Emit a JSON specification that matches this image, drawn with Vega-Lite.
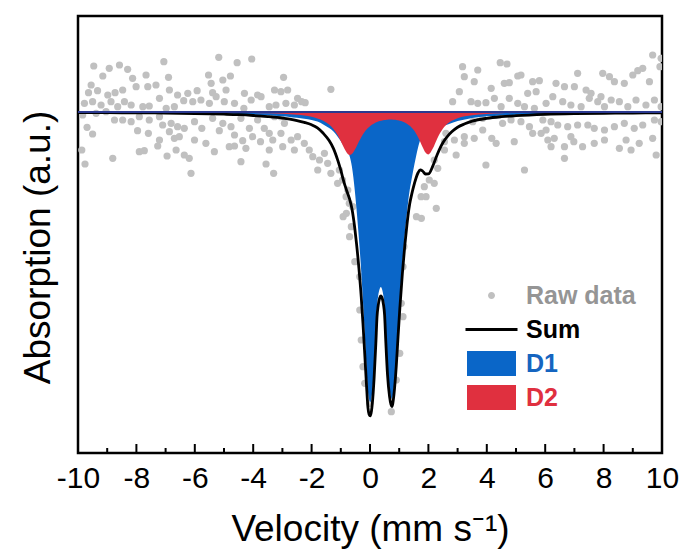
{
  "$schema": "https://vega.github.io/schema/vega-lite/v6.json",
  "width": 584,
  "height": 437,
  "autosize": {"type": "none"},
  "padding": {"left": 78, "top": 16, "right": 27, "bottom": 100},
  "background": "white",
  "config": {
    "view": {"stroke": "black", "strokeWidth": 2.5},
    "font": "Liberation Sans"
  },
  "datasets": {
    "majorTicks": [{"t": -8}, {"t": -6}, {"t": -4}, {"t": -2}, {"t": 0}, {"t": 2}, {"t": 4}, {"t": 6}, {"t": 8}],
    "minorTicks": [{"t": -9}, {"t": -7}, {"t": -5}, {"t": -3}, {"t": -1}, {"t": 1}, {"t": 3}, {"t": 5}, {"t": 7}, {"t": 9}],
    "curves": [
      {"v": -10, "D1": 99.96, "D2": 99.99, "Sum": 99.95},
      {"v": -9, "D1": 99.95, "D2": 99.98, "Sum": 99.93},
      {"v": -8, "D1": 99.94, "D2": 99.98, "Sum": 99.92},
      {"v": -7, "D1": 99.92, "D2": 99.97, "Sum": 99.89},
      {"v": -6, "D1": 99.89, "D2": 99.96, "Sum": 99.85},
      {"v": -5, "D1": 99.84, "D2": 99.94, "Sum": 99.78},
      {"v": -4.5, "D1": 99.8, "D2": 99.93, "Sum": 99.73},
      {"v": -4, "D1": 99.74, "D2": 99.91, "Sum": 99.65},
      {"v": -3.5, "D1": 99.67, "D2": 99.87, "Sum": 99.54},
      {"v": -3, "D1": 99.57, "D2": 99.82, "Sum": 99.39},
      {"v": -2.75, "D1": 99.5, "D2": 99.78, "Sum": 99.28},
      {"v": -2.5, "D1": 99.42, "D2": 99.72, "Sum": 99.14},
      {"v": -2.25, "D1": 99.32, "D2": 99.64, "Sum": 98.96},
      {"v": -2, "D1": 99.2, "D2": 99.52, "Sum": 98.72},
      {"v": -1.8, "D1": 99.05, "D2": 99.36, "Sum": 98.41},
      {"v": -1.6, "D1": 98.75, "D2": 99.12, "Sum": 97.87},
      {"v": -1.4, "D1": 98.4, "D2": 98.74, "Sum": 97.14},
      {"v": -1.25, "D1": 98.05, "D2": 98.29, "Sum": 96.34},
      {"v": -1.1, "D1": 97.5, "D2": 97.64, "Sum": 95.14},
      {"v": -1.0, "D1": 97.1, "D2": 97.08, "Sum": 94.18},
      {"v": -0.9, "D1": 96.6, "D2": 96.47, "Sum": 93.07},
      {"v": -0.8, "D1": 96.2, "D2": 95.95, "Sum": 92.15},
      {"v": -0.7, "D1": 95.6, "D2": 95.71, "Sum": 91.31},
      {"v": -0.62, "D1": 94.55, "D2": 95.8, "Sum": 90.35},
      {"v": -0.57, "D1": 93.47, "D2": 95.98, "Sum": 89.45},
      {"v": -0.52, "D1": 92.13, "D2": 96.22, "Sum": 88.35},
      {"v": -0.46, "D1": 90.23, "D2": 96.56, "Sum": 86.79},
      {"v": -0.38, "D1": 87.35, "D2": 97.04, "Sum": 84.39},
      {"v": -0.3, "D1": 84.03, "D2": 97.48, "Sum": 81.51},
      {"v": -0.24, "D1": 81.04, "D2": 97.77, "Sum": 78.81},
      {"v": -0.18, "D1": 77.78, "D2": 98.03, "Sum": 75.81},
      {"v": -0.12, "D1": 74.45, "D2": 98.24, "Sum": 72.69},
      {"v": -0.07, "D1": 72.04, "D2": 98.4, "Sum": 70.44},
      {"v": -0.03, "D1": 71.25, "D2": 98.51, "Sum": 69.76},
      {"v": 0.01, "D1": 71.0, "D2": 98.61, "Sum": 69.61},
      {"v": 0.05, "D1": 71.4, "D2": 98.7, "Sum": 70.1},
      {"v": 0.08, "D1": 72.1, "D2": 98.76, "Sum": 70.86},
      {"v": 0.14, "D1": 74.5, "D2": 98.86, "Sum": 73.36},
      {"v": 0.2, "D1": 77.9, "D2": 98.95, "Sum": 76.85},
      {"v": 0.24, "D1": 80.5, "D2": 99.0, "Sum": 79.5},
      {"v": 0.28, "D1": 81.6, "D2": 99.04, "Sum": 80.64},
      {"v": 0.33, "D1": 82.3, "D2": 99.09, "Sum": 81.39},
      {"v": 0.37, "D1": 82.5, "D2": 99.12, "Sum": 81.62},
      {"v": 0.42, "D1": 82.2, "D2": 99.16, "Sum": 81.36},
      {"v": 0.46, "D1": 81.6, "D2": 99.18, "Sum": 80.78},
      {"v": 0.5, "D1": 80.5, "D2": 99.2, "Sum": 79.7},
      {"v": 0.54, "D1": 77.9, "D2": 99.21, "Sum": 77.11},
      {"v": 0.6, "D1": 74.5, "D2": 99.23, "Sum": 73.73},
      {"v": 0.67, "D1": 72.3, "D2": 99.24, "Sum": 71.54},
      {"v": 0.72, "D1": 71.5, "D2": 99.24, "Sum": 70.74},
      {"v": 0.75, "D1": 71.3, "D2": 99.24, "Sum": 70.54},
      {"v": 0.78, "D1": 71.6, "D2": 99.23, "Sum": 70.83},
      {"v": 0.82, "D1": 72.5, "D2": 99.23, "Sum": 71.73},
      {"v": 0.9, "D1": 75.4, "D2": 99.2, "Sum": 74.6},
      {"v": 0.96, "D1": 78.33, "D2": 99.17, "Sum": 77.5},
      {"v": 1.02, "D1": 81.17, "D2": 99.13, "Sum": 80.3},
      {"v": 1.11, "D1": 84.85, "D2": 99.05, "Sum": 83.9},
      {"v": 1.19, "D1": 87.65, "D2": 98.95, "Sum": 86.6},
      {"v": 1.25, "D1": 89.45, "D2": 98.85, "Sum": 88.3},
      {"v": 1.3, "D1": 90.84, "D2": 98.76, "Sum": 89.6},
      {"v": 1.36, "D1": 92.2, "D2": 98.62, "Sum": 90.82},
      {"v": 1.42, "D1": 93.2, "D2": 98.46, "Sum": 91.66},
      {"v": 1.47, "D1": 94.0, "D2": 98.29, "Sum": 92.29},
      {"v": 1.58, "D1": 95.6, "D2": 97.83, "Sum": 93.43},
      {"v": 1.65, "D1": 96.5, "D2": 97.45, "Sum": 93.95},
      {"v": 1.72, "D1": 97.2, "D2": 97.02, "Sum": 94.22},
      {"v": 1.8, "D1": 97.6, "D2": 96.5, "Sum": 94.1},
      {"v": 1.9, "D1": 97.85, "D2": 95.95, "Sum": 93.8},
      {"v": 2.0, "D1": 98.05, "D2": 95.76, "Sum": 93.81},
      {"v": 2.15, "D1": 98.25, "D2": 96.34, "Sum": 94.59},
      {"v": 2.3, "D1": 98.4, "D2": 97.33, "Sum": 95.73},
      {"v": 2.5, "D1": 98.6, "D2": 98.35, "Sum": 96.95},
      {"v": 2.66, "D1": 98.75, "D2": 98.84, "Sum": 97.59},
      {"v": 2.8, "D1": 98.9, "D2": 99.12, "Sum": 98.02},
      {"v": 3.0, "D1": 99.1, "D2": 99.38, "Sum": 98.48},
      {"v": 3.25, "D1": 99.25, "D2": 99.57, "Sum": 98.82},
      {"v": 3.5, "D1": 99.4, "D2": 99.68, "Sum": 99.08},
      {"v": 4, "D1": 99.57, "D2": 99.8, "Sum": 99.37},
      {"v": 4.5, "D1": 99.66, "D2": 99.87, "Sum": 99.53},
      {"v": 5, "D1": 99.73, "D2": 99.9, "Sum": 99.63},
      {"v": 6, "D1": 99.82, "D2": 99.94, "Sum": 99.76},
      {"v": 7, "D1": 99.87, "D2": 99.96, "Sum": 99.83},
      {"v": 8, "D1": 99.9, "D2": 99.97, "Sum": 99.87},
      {"v": 9, "D1": 99.92, "D2": 99.98, "Sum": 99.9},
      {"v": 10, "D1": 99.94, "D2": 99.98, "Sum": 99.92}
    ],
    "raw": [
      {"v": -9.46, "y": 104.6}, {"v": -8.93, "y": 104.37}, {"v": -8.58, "y": 104.7}, {"v": -8.3, "y": 104.27},
      {"v": -7.06, "y": 105.03}, {"v": -5.18, "y": 105.47}, {"v": -4.55, "y": 104.93}, {"v": -4.05, "y": 105.3},
      {"v": -5.53, "y": 103.7}, {"v": -5.04, "y": 103.2}, {"v": -4.78, "y": 103.6}, {"v": -6.9, "y": 103.47},
      {"v": -7.67, "y": 103.7}, {"v": -8.13, "y": 103.37}, {"v": -9.15, "y": 103.6}, {"v": -9.55, "y": 102.7},
      {"v": -9.33, "y": 102.13}, {"v": -9.64, "y": 101.93}, {"v": -8.47, "y": 102.2}, {"v": -8.73, "y": 101.93},
      {"v": -8.98, "y": 101.7}, {"v": -8.41, "y": 101.03}, {"v": -8.01, "y": 102.53}, {"v": -7.61, "y": 102.53},
      {"v": -7.33, "y": 102.7}, {"v": -6.87, "y": 102.2}, {"v": -6.59, "y": 101.7}, {"v": -6.24, "y": 101.87},
      {"v": -5.92, "y": 102.13}, {"v": -5.44, "y": 102.87}, {"v": -5.39, "y": 101.93}, {"v": -4.93, "y": 102.2},
      {"v": -4.3, "y": 101.87}, {"v": -3.85, "y": 101.7}, {"v": -3.27, "y": 102.2}, {"v": -9.78, "y": 100.87},
      {"v": -9.5, "y": 101.03}, {"v": -9.21, "y": 100.7}, {"v": -8.87, "y": 101.03}, {"v": -8.64, "y": 100.53},
      {"v": -8.18, "y": 100.7}, {"v": -7.78, "y": 100.53}, {"v": -7.56, "y": 100.6}, {"v": -7.21, "y": 101.37},
      {"v": -6.98, "y": 100.37}, {"v": -6.7, "y": 100.53}, {"v": -6.38, "y": 101.13}, {"v": -6.07, "y": 101.03},
      {"v": -5.79, "y": 101.2}, {"v": -5.5, "y": 100.87}, {"v": -5.27, "y": 101.53}, {"v": -4.99, "y": 101.03},
      {"v": -4.64, "y": 100.87}, {"v": -4.32, "y": 100.37}, {"v": -4.07, "y": 101.2}, {"v": -3.73, "y": 101.53},
      {"v": -3.45, "y": 100.53}, {"v": -3.22, "y": 100.7}, {"v": -9.84, "y": 99.7}, {"v": -9.38, "y": 99.87},
      {"v": -9.04, "y": 100.03}, {"v": -8.75, "y": 99.2}, {"v": -8.47, "y": 99.2}, {"v": -8.18, "y": 99.03},
      {"v": -7.9, "y": 99.53}, {"v": -7.56, "y": 99.2}, {"v": -7.21, "y": 99.53}, {"v": -7.1, "y": 98.7},
      {"v": -6.81, "y": 98.87}, {"v": -6.59, "y": 98.53}, {"v": -6.36, "y": 98.37}, {"v": -6.01, "y": 99.03},
      {"v": -5.76, "y": 98.37}, {"v": -5.39, "y": 99.37}, {"v": -5.04, "y": 98.87}, {"v": -4.76, "y": 98.53},
      {"v": -4.42, "y": 99.37}, {"v": -4.13, "y": 98.37}, {"v": -3.85, "y": 99.2}, {"v": -3.62, "y": 98.37},
      {"v": -3.27, "y": 99.53}, {"v": -9.69, "y": 98.47}, {"v": -9.5, "y": 97.8}, {"v": -7.96, "y": 98.13},
      {"v": -7.59, "y": 97.87}, {"v": -7.21, "y": 97.2}, {"v": -6.87, "y": 98.03}, {"v": -6.7, "y": 97.37},
      {"v": -6.53, "y": 97.53}, {"v": -6.01, "y": 97.2}, {"v": -5.62, "y": 96.87}, {"v": -5.16, "y": 98.13},
      {"v": -4.64, "y": 97.7}, {"v": -4.36, "y": 97.13}, {"v": -4.02, "y": 97.53}, {"v": -3.75, "y": 97.03},
      {"v": -3.45, "y": 97.87}, {"v": -3.33, "y": 97.2}, {"v": -9.87, "y": 96.2}, {"v": -8.81, "y": 95.37},
      {"v": -7.9, "y": 96.03}, {"v": -7.73, "y": 96.13}, {"v": -7.27, "y": 96.6}, {"v": -6.95, "y": 95.6},
      {"v": -6.64, "y": 96.2}, {"v": -6.36, "y": 95.7}, {"v": -6.19, "y": 95.37}, {"v": -5.33, "y": 96.03},
      {"v": -4.82, "y": 96.53}, {"v": -4.64, "y": 96.6}, {"v": -4.25, "y": 96.37}, {"v": -3.45, "y": 96.2},
      {"v": -9.76, "y": 94.8}, {"v": -6.13, "y": 93.87}, {"v": -4.42, "y": 95.03}, {"v": -3.56, "y": 94.8},
      {"v": -3.3, "y": 93.87},
      {"v": -2.96, "y": 103.47}, {"v": -2.82, "y": 102.2}, {"v": -3.05, "y": 102.03}, {"v": -1.34, "y": 102.27},
      {"v": -2.48, "y": 101.37}, {"v": -2.34, "y": 101.03}, {"v": -2.59, "y": 100.7}, {"v": -2.88, "y": 100.87},
      {"v": -2.22, "y": 100.93}, {"v": -3.05, "y": 99.53}, {"v": -2.93, "y": 98.87}, {"v": -3.05, "y": 97.87},
      {"v": -2.7, "y": 97.2}, {"v": -2.48, "y": 97.53}, {"v": -2.99, "y": 96.53}, {"v": -2.59, "y": 96.2},
      {"v": -2.25, "y": 96.87}, {"v": -2.08, "y": 96.2}, {"v": -1.96, "y": 95.53}, {"v": -1.73, "y": 95.2},
      {"v": -1.56, "y": 95.87}, {"v": -1.45, "y": 94.87}, {"v": -1.79, "y": 94.2}, {"v": -1.34, "y": 93.87},
      {"v": -1.05, "y": 94.2}, {"v": -1.11, "y": 92.87}, {"v": -0.94, "y": 93.2}, {"v": -0.76, "y": 92.2},
      {"v": -0.82, "y": 91.53}, {"v": -0.71, "y": 90.87}, {"v": -0.59, "y": 90.53},
      {"v": 3.17, "y": 104.53}, {"v": 3.23, "y": 103.53}, {"v": 3.06, "y": 102.03}, {"v": 2.83, "y": 101.03},
      {"v": 2.32, "y": 98.87}, {"v": 2.6, "y": 97.87}, {"v": 2.89, "y": 97.2}, {"v": 3.23, "y": 97.53},
      {"v": 2.55, "y": 96.2}, {"v": 2.95, "y": 95.7}, {"v": 2.2, "y": 95.2}, {"v": 2.32, "y": 94.37},
      {"v": 2.03, "y": 93.2}, {"v": 1.86, "y": 92.53}, {"v": 2.2, "y": 92.87}, {"v": 1.75, "y": 91.53},
      {"v": 1.92, "y": 91.53}, {"v": 2.55, "y": 97.03}, {"v": 3.23, "y": 96.87},
      {"v": 4.46, "y": 104.93}, {"v": 4.69, "y": 104.8}, {"v": 3.69, "y": 104.2}, {"v": 3.57, "y": 103.03},
      {"v": 4.15, "y": 102.37}, {"v": 4.6, "y": 102.87}, {"v": 4.77, "y": 102.93}, {"v": 5.06, "y": 103.6},
      {"v": 5.17, "y": 103.7}, {"v": 5.57, "y": 103.03}, {"v": 5.8, "y": 103.13}, {"v": 5.4, "y": 101.87},
      {"v": 5.69, "y": 102.03}, {"v": 6.37, "y": 102.87}, {"v": 6.66, "y": 102.53}, {"v": 7.0, "y": 102.53},
      {"v": 7.11, "y": 103.87}, {"v": 7.4, "y": 102.2}, {"v": 7.57, "y": 101.87}, {"v": 7.97, "y": 103.87},
      {"v": 8.2, "y": 103.53}, {"v": 8.37, "y": 103.03}, {"v": 8.71, "y": 102.87}, {"v": 9.0, "y": 103.7},
      {"v": 9.17, "y": 104.13}, {"v": 9.34, "y": 104.37}, {"v": 9.57, "y": 103.03}, {"v": 9.68, "y": 105.7},
      {"v": 9.93, "y": 104.53}, {"v": 9.97, "y": 105.37}, {"v": 3.46, "y": 101.03}, {"v": 3.69, "y": 100.87},
      {"v": 3.97, "y": 100.93}, {"v": 4.26, "y": 101.37}, {"v": 4.49, "y": 100.53}, {"v": 4.77, "y": 101.37},
      {"v": 5.06, "y": 100.87}, {"v": 5.29, "y": 100.53}, {"v": 5.63, "y": 100.37}, {"v": 6.03, "y": 100.87},
      {"v": 6.26, "y": 101.53}, {"v": 6.6, "y": 101.03}, {"v": 6.88, "y": 100.7}, {"v": 7.23, "y": 100.53},
      {"v": 7.51, "y": 101.37}, {"v": 7.8, "y": 101.03}, {"v": 8.03, "y": 100.53}, {"v": 8.26, "y": 101.2},
      {"v": 8.54, "y": 101.03}, {"v": 8.83, "y": 100.53}, {"v": 9.11, "y": 101.2}, {"v": 9.45, "y": 100.7},
      {"v": 9.74, "y": 101.2}, {"v": 9.97, "y": 100.53}, {"v": 7.91, "y": 101.53}, {"v": 3.52, "y": 99.03},
      {"v": 3.86, "y": 99.37}, {"v": 3.57, "y": 97.37}, {"v": 3.86, "y": 98.2}, {"v": 4.17, "y": 97.37},
      {"v": 4.32, "y": 96.87}, {"v": 4.54, "y": 98.87}, {"v": 4.83, "y": 99.2}, {"v": 5.17, "y": 99.03},
      {"v": 5.46, "y": 98.53}, {"v": 5.92, "y": 99.2}, {"v": 6.2, "y": 99.03}, {"v": 6.03, "y": 98.2},
      {"v": 6.43, "y": 98.7}, {"v": 6.77, "y": 98.53}, {"v": 7.11, "y": 98.7}, {"v": 7.46, "y": 98.7},
      {"v": 7.68, "y": 98.37}, {"v": 8.03, "y": 98.2}, {"v": 8.37, "y": 98.53}, {"v": 8.71, "y": 98.87},
      {"v": 9.05, "y": 98.37}, {"v": 9.34, "y": 98.7}, {"v": 9.74, "y": 99.2}, {"v": 9.97, "y": 99.03},
      {"v": 5.86, "y": 97.87}, {"v": 6.09, "y": 97.2}, {"v": 6.31, "y": 97.37}, {"v": 6.66, "y": 96.53},
      {"v": 6.88, "y": 97.53}, {"v": 6.98, "y": 97.03}, {"v": 7.28, "y": 96.53}, {"v": 7.68, "y": 96.87},
      {"v": 8.03, "y": 97.2}, {"v": 8.54, "y": 96.37}, {"v": 8.77, "y": 97.2}, {"v": 8.94, "y": 96.2},
      {"v": 9.22, "y": 96.87}, {"v": 9.68, "y": 97.37}, {"v": 9.8, "y": 95.7}, {"v": 5.57, "y": 97.87},
      {"v": 4.94, "y": 97.03}, {"v": 3.97, "y": 94.7}, {"v": 5.29, "y": 94.2}, {"v": 6.66, "y": 95.37},
      {"v": 6.2, "y": 96.53},
      {"v": -0.81, "y": 89.87}, {"v": -0.92, "y": 89.53}, {"v": -0.64, "y": 88.53}, {"v": -0.7, "y": 87.53},
      {"v": -0.52, "y": 85.03}, {"v": -0.35, "y": 83.53}, {"v": -0.35, "y": 80.2}, {"v": -0.3, "y": 77.2},
      {"v": -0.24, "y": 74.53}, {"v": -0.18, "y": 72.87}, {"v": -0.01, "y": 70.87},
      {"v": 1.76, "y": 89.37}, {"v": 2.27, "y": 90.37}, {"v": 1.59, "y": 89.53}, {"v": 1.07, "y": 80.87},
      {"v": 1.13, "y": 79.53}, {"v": 1.02, "y": 75.87}, {"v": 0.9, "y": 73.2}, {"v": 0.73, "y": 70.03},
      {"v": 1.13, "y": 84.53}, {"v": 1.16, "y": 86.53}
    ]
  },
  "layer": [
    {
      "data": {"name": "raw"},
      "mark": {"type": "point", "filled": true, "size": 52, "opacity": 1, "clip": true},
      "encoding": {
        "x": {
          "field": "v", "type": "quantitative",
          "scale": {"domain": [-10, 10], "nice": false, "zero": false},
          "axis": {
            "values": [-10, -8, -6, -4, -2, 0, 2, 4, 6, 8, 10],
            "labelExpr": "'' + datum.value",
            "ticks": false,
            "domain": false, "grid": false,
            "labelFont": "Liberation Sans", "labelFontSize": 30, "labelColor": "black",
            "labelPadding": 10, "labelFlush": false, "labelOverlap": false,
            "title": "Velocity (mm s⁻¹)",
            "titleFont": "Liberation Sans", "titleFontSize": 37, "titleFontWeight": "normal",
            "titleColor": "black", "titlePadding": 18
          }
        },
        "y": {
          "field": "y", "type": "quantitative",
          "scale": {"domain": [65.9, 109.6], "nice": false, "zero": false},
          "axis": {
            "ticks": false, "labels": false, "domain": false, "grid": false,
            "title": "Absorption (a.u.)",
            "titleFont": "Liberation Sans", "titleFontSize": 37, "titleFontWeight": "normal",
            "titleColor": "black", "titlePadding": 21, "titleY": 231
          }
        },
        "color": {
          "datum": "Raw data",
          "scale": {
            "domain": ["Raw data", "Sum", "D1", "D2"],
            "range": ["#c0c0c0", "#000000", "#0a66c8", "#e0303f"]
          },
          "legend": {
            "orient": "none", "legendX": 401, "legendY": 267,
            "title": null, "padding": 0,
            "symbolSize": 625, "symbolStrokeWidth": 0, "symbolOpacity": 1,
            "rowPadding": 8, "labelOffset": 22,
            "labelFont": "Liberation Sans", "labelFontSize": 25, "labelFontWeight": "bold",
            "encode": {
              "symbols": {
                "update": {
                  "shape": {"signal": "datum.value === 'Raw data' ? 'M0.28,0A0.28,0.28,0,1,1,-0.28,0A0.28,0.28,0,1,1,0.28,0Z' : datum.value === 'Sum' ? 'M-2.08,-0.12H2.08V0.12H-2.08Z' : 'M-1.96,-1H1.96V1H-1.96Z'"},
                  "fill": {"signal": "datum.value === 'Raw data' ? '#c0c0c0' : datum.value === 'Sum' ? '#000000' : datum.value === 'D1' ? '#0a66c8' : '#e0303f'"},
                  "stroke": {"value": "transparent"},
                  "strokeWidth": {"value": 0},
                  "opacity": {"value": 1}
                }
              },
              "labels": {
                "update": {
                  "fill": {"signal": "datum.value === 'Raw data' ? '#959595' : datum.value === 'Sum' ? '#000000' : datum.value === 'D1' ? '#1565c0' : '#e0303f'"}
                }
              }
            }
          }
        }
      }
    },
    {
      "data": {"name": "curves"},
      "mark": {"type": "area", "interpolate": "monotone", "opacity": 1},
      "encoding": {
        "x": {"field": "v", "type": "quantitative"},
        "y": {"field": "D1", "type": "quantitative"},
        "y2": {"datum": 100},
        "color": {"datum": "D1"}
      }
    },
    {
      "data": {"name": "curves"},
      "mark": {"type": "area", "interpolate": "monotone", "opacity": 1},
      "encoding": {
        "x": {"field": "v", "type": "quantitative"},
        "y": {"field": "D2", "type": "quantitative"},
        "y2": {"datum": 100},
        "color": {"datum": "D2"}
      }
    },
    {
      "data": {"name": "curves"},
      "mark": {"type": "line", "interpolate": "monotone", "strokeWidth": 2.8},
      "encoding": {
        "x": {"field": "v", "type": "quantitative"},
        "y": {"field": "Sum", "type": "quantitative"},
        "color": {"datum": "Sum"}
      }
    },
    {
      "data": {"name": "curves"},
      "mark": {"type": "rule", "color": "#2b3990", "strokeWidth": 2},
      "encoding": {
        "y": {"datum": 100}
      }
    },
    {
      "data": {"name": "majorTicks"},
      "mark": {"type": "rule", "color": "black", "strokeWidth": 2},
      "encoding": {
        "x": {"field": "t", "type": "quantitative"},
        "y": {"datum": 65.9},
        "y2": {"datum": 66.8}
      }
    },
    {
      "data": {"name": "minorTicks"},
      "mark": {"type": "rule", "color": "black", "strokeWidth": 2},
      "encoding": {
        "x": {"field": "t", "type": "quantitative"},
        "y": {"datum": 65.9},
        "y2": {"datum": 66.4}
      }
    }
  ]
}
